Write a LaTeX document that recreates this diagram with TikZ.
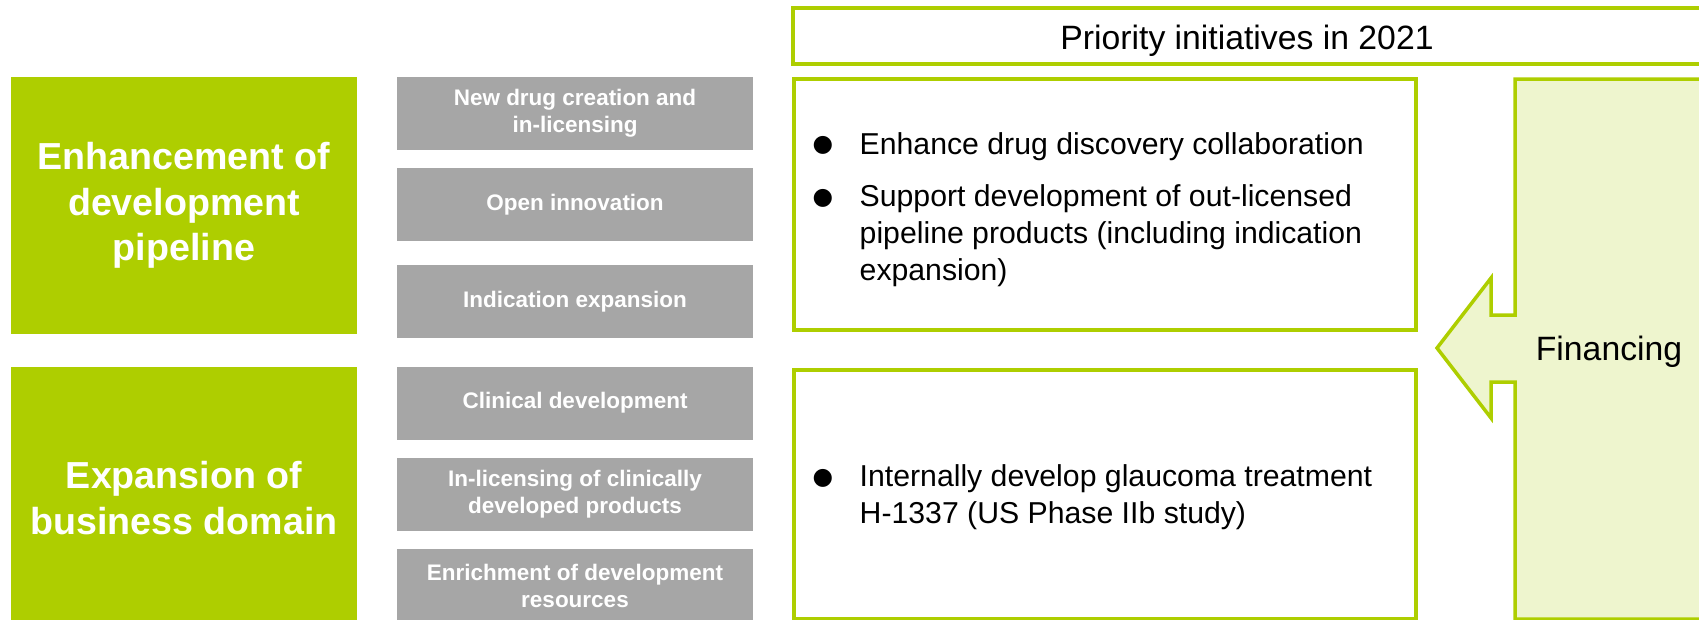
\documentclass[tikz,border=0pt]{standalone}
\usepackage{fontspec}
\setmainfont{Liberation Sans}
\newfontfamily\dotfont{DejaVu Sans}
\usetikzlibrary{positioning}
\definecolor{leaf}{HTML}{AECE00}
\definecolor{leaflight}{HTML}{EEF5CE}
\definecolor{stone}{HTML}{A6A6A6}
\newcommand{\bdot}{{\dotfont\fontsize{6.7}{7}\selectfont\raisebox{0.25mm}{●}}}

\tikzset{
  pillar/.style={fill=leaf,text=white,inner sep=0,align=center,minimum width=34.6mm,
    font=\fontsize{10.7}{12.9}\selectfont\bfseries},
  task/.style={fill=stone,text=white,inner sep=0,align=center,minimum width=35.6mm,
    minimum height=7.3mm,font=\fontsize{6.4}{7.7}\selectfont\bfseries},
  frame/.style={draw=leaf,line width=0.35mm,fill=white,inner sep=0,minimum width=62.2mm},
  bullets/.style={inner sep=0,anchor=west,font=\fontsize{8.6}{10.5}\selectfont},
  title/.style={inner sep=0,anchor=base,font=\fontsize{9.6}{11.5}\selectfont},
}

\begin{document}
\begin{tikzpicture}[x=0.1mm,y=-0.1mm]
  \useasboundingbox (0,0) rectangle (1699,619);
  \clip (0,0) rectangle (1699,619);

  % left column
  \node[pillar,minimum height=25.7mm] (pipeline) at (184,205.5) {Enhancement of\\development\\pipeline};
  \node[pillar,minimum height=26.2mm] (domain) at (184,498) {Expansion of\\business domain};

  % middle column
  \node[task] (newdrug) at (575,113.5) {New drug creation and\\in-licensing};
  \node[task] (openinno) at (575,204.5) {Open innovation};
  \node[task] (indication) at (575,301.5) {Indication expansion};
  \node[task] (clinical) at (575,403) {Clinical development};
  \node[task] (inlicense) at (575,494.5) {In-licensing of clinically\\developed products};
  \node[task] (resources) at (575,585.5) {Enrichment of development\\resources};

  % initiatives
  \node[frame,minimum width=90.8mm,minimum height=5.6mm] (head) at (1247,36) {};
  \node[title] (headtext) at (1247,49) {Priority initiatives in 2021};
  \node[frame,minimum height=25.1mm] (plan1) at (1105,204.5) {};
  \node[frame,minimum height=24.9mm] (plan2) at (1105,494.5) {};
  \node[bullets] (list1) at (812,210) {%
    \begin{tabular}{@{}p{4.7mm}@{}l@{}}
      \bdot & Enhance drug discovery collaboration\\[1.55mm]
      \bdot & Support development of out-licensed\\
            & pipeline products (including indication\\
            & expansion)
    \end{tabular}};
  \node[bullets] (list2) at (812,498) {%
    \begin{tabular}{@{}p{4.7mm}@{}l@{}}
      \bdot & Internally develop glaucoma treatment\\
            & H-1337 (US Phase IIb study)
    \end{tabular}};

  % financing arrow
  \draw[draw=leaf,fill=leaflight,line width=0.35mm]
    (1705,79) -- (1515,79) -- (1515,315) -- (1491,315) -- (1491,278) -- (1437,348)
    -- (1491,418) -- (1491,382) -- (1515,382) -- (1515,619) -- (1705,619) -- cycle;
  \node[title] (fund) at (1609,360) {Financing};
\end{tikzpicture}
\end{document}
